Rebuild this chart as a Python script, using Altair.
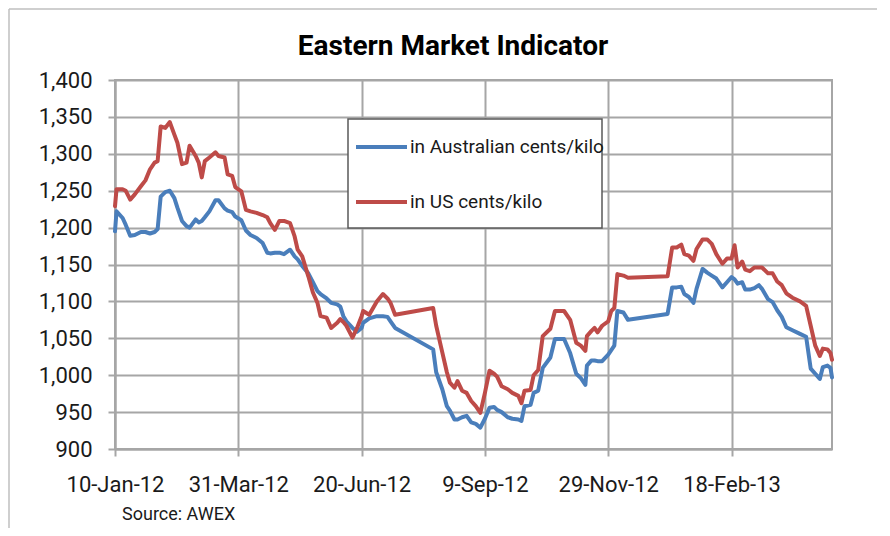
import altair as alt
import pandas as pd

# ---------------- data ----------------
start_date = "2012-01-10"

day_offsets = [0, 1, 5, 7, 10, 13, 17, 20, 23, 26, 28, 30, 33, 36, 39, 41, 44, 47, 49, 53,
               55, 57, 59, 62, 66, 68, 72, 74, 77, 79, 83, 86, 89, 93, 97, 100, 102, 105, 108, 111,
               115, 118, 120, 123, 127, 130, 133, 135, 139, 142, 146, 148, 150, 152, 156, 159, 162, 163, 167, 172,
               176, 179, 181, 184, 209, 211, 215, 218, 220, 223, 225, 228, 231, 234, 237, 240, 243, 246, 249, 251,
               254, 258, 261, 265, 267, 269, 273, 275, 278, 281, 286, 289, 295, 299, 303, 306, 309, 310, 313, 315,
               317, 320, 324, 326, 328, 330, 334, 337, 363, 366, 369, 372, 374, 377, 380, 382, 386, 389, 392, 395,
               399, 402, 405, 407, 409, 412, 414, 417, 420, 423, 425, 429, 432, 435, 438, 441, 445, 450, 454, 457,
               460, 463, 465, 468, 470, 471]

aud_cents = [1195, 1222, 1213, 1204, 1189, 1190, 1194, 1194, 1192, 1194, 1198, 1242, 1248, 1250, 1240, 1227, 1209, 1202, 1200, 1211,
             1207, 1209, 1214, 1222, 1237, 1237, 1226, 1223, 1221, 1215, 1210, 1196, 1190, 1186, 1179, 1166, 1165, 1166, 1166, 1164,
             1170, 1161, 1157, 1148, 1138, 1126, 1114, 1110, 1104, 1098, 1096, 1093, 1080, 1073, 1064, 1059, 1064, 1071, 1077, 1080,
             1080, 1079, 1073, 1064, 1035, 1004, 981, 958, 952, 940, 940, 943, 945, 936, 934, 929, 941, 956, 957, 953,
             950, 943, 941, 940, 938, 958, 960, 976, 979, 1010, 1024, 1049, 1049, 1030, 1002, 996, 987, 1013, 1020, 1020,
             1019, 1019, 1028, 1034, 1040, 1087, 1085, 1075, 1083, 1119, 1119, 1120, 1110, 1106, 1098, 1117, 1144, 1139, 1135, 1131,
             1119, 1126, 1133, 1130, 1124, 1126, 1116, 1116, 1118, 1122, 1117, 1103, 1099, 1088, 1079, 1065, 1061, 1056, 1052, 1009,
             1002, 995, 1011, 1013, 1010, 997]

usd_cents = [1229, 1252, 1252, 1250, 1238, 1245, 1256, 1264, 1279, 1288, 1290, 1337, 1335, 1343, 1326, 1315, 1286, 1288, 1311, 1297,
             1288, 1268, 1290, 1295, 1302, 1297, 1295, 1272, 1270, 1255, 1249, 1224, 1222, 1220, 1217, 1214, 1206, 1197, 1209, 1209,
             1206, 1188, 1170, 1161, 1134, 1112, 1098, 1080, 1078, 1064, 1071, 1076, 1072, 1067, 1051, 1064, 1080, 1087, 1082, 1100,
             1110, 1104, 1098, 1082, 1091, 1067, 1031, 1004, 990, 983, 992, 979, 976, 965, 958, 949, 976, 1006, 1002, 998,
             985, 981, 976, 972, 962, 979, 980, 1000, 1007, 1053, 1063, 1087, 1087, 1075, 1044, 1040, 1033, 1053, 1060, 1064,
             1058, 1067, 1073, 1087, 1091, 1137, 1135, 1132, 1134, 1173, 1173, 1177, 1164, 1162, 1155, 1171, 1184, 1184, 1178, 1164,
             1151, 1158, 1158, 1176, 1146, 1154, 1143, 1141, 1146, 1146, 1146, 1138, 1138, 1127, 1122, 1111, 1105, 1100, 1094, 1067,
             1040, 1026, 1036, 1035, 1030, 1021]

series_names = ["in Australian cents/kilo", "in US cents/kilo"]
x_tick_days = [0, 81, 162, 243, 324, 405]
y_ticks = [900, 950, 1000, 1050, 1100, 1150, 1200, 1250, 1300, 1350, 1400]
chart_title = "Eastern Market Indicator"
source_note = "Source: AWEX"

# ---------------- styles ----------------
series_colors = ["#4A7EBB", "#BE4B48"]
FONT = "Roboto"
GRID = "#A6A6A6"
TEXT = "#1A1A1A"

assert len(day_offsets) == len(aud_cents) == len(usd_cents)

start = pd.Timestamp(start_date)
dates = [start + pd.Timedelta(days=d) for d in day_offsets]
n = len(dates)
df = pd.DataFrame({
    "date": dates + dates,
    "value": aud_cents + usd_cents,
    "series": [series_names[0]] * n + [series_names[1]] * n,
})


def dt(ts):
    return alt.DateTime(year=int(ts.year), month=int(ts.month), date=int(ts.day))


tick_dates = [dt(start + pd.Timedelta(days=d)) for d in x_tick_days]
x_domain = [dt(start), dt(start + pd.Timedelta(days=max(day_offsets)))]

lines = alt.Chart(df).mark_line(strokeWidth=4, strokeJoin="round", strokeCap="round").encode(
    x=alt.X("date:T",
            scale=alt.Scale(domain=x_domain, nice=False),
            axis=alt.Axis(values=tick_dates, format="%-d-%b-%y", title=None,
                          labelFont=FONT, labelFontSize=22, labelColor=TEXT,
                          labelPadding=18, labelFlush=False, labelOverlap=False,
                          tickColor=GRID, tickWidth=2, tickSize=7,
                          domainColor=GRID, domainWidth=2,
                          grid=True, gridColor=GRID, gridWidth=2)),
    y=alt.Y("value:Q",
            scale=alt.Scale(domain=[900, 1400], nice=False, zero=False),
            axis=alt.Axis(values=y_ticks, format=",.0f", title=None,
                          labelFont=FONT, labelFontSize=22, labelColor=TEXT,
                          labelPadding=16, labelFlush=False, labelOverlap=False,
                          tickColor=GRID, tickWidth=2, tickSize=7,
                          domainColor=GRID, domainWidth=2,
                          grid=True, gridColor=GRID, gridWidth=2)),
    color=alt.Color("series:N", scale=alt.Scale(domain=series_names, range=series_colors), legend=None),
    order=alt.Order("date:T"),
)

base = alt.Chart(pd.DataFrame({"k": [0]}))

legend_box = base.mark_rect(fill="white", stroke="#595959", strokeWidth=1.5).encode(
    x=alt.value(233), x2=alt.value(487), y=alt.value(39), y2=alt.value(148))

legend_line_1 = base.mark_rule(color=series_colors[0], strokeWidth=4).encode(
    x=alt.value(241), x2=alt.value(292), y=alt.value(67))
legend_line_2 = base.mark_rule(color=series_colors[1], strokeWidth=4).encode(
    x=alt.value(241), x2=alt.value(292), y=alt.value(122))

legend_text_1 = base.mark_text(align="left", baseline="middle", font=FONT, fontSize=19, color=TEXT).encode(
    x=alt.value(295), y=alt.value(67), text=alt.value(series_names[0]))
legend_text_2 = base.mark_text(align="left", baseline="middle", font=FONT, fontSize=19, color=TEXT).encode(
    x=alt.value(295), y=alt.value(122), text=alt.value(series_names[1]))

title_mark = base.mark_text(align="center", baseline="middle", font=FONT, fontSize=28,
                            fontWeight="bold", color="#000000").encode(
    x=alt.value(338), y=alt.value(-33), text=alt.value(chart_title))

source_mark = base.mark_text(align="left", baseline="middle", font=FONT, fontSize=18, color=TEXT).encode(
    x=alt.value(7), y=alt.value(435), text=alt.value(source_note))

border_top = base.mark_rule(color="#BFBFBF", strokeWidth=1.5).encode(
    x=alt.value(-106), x2=alt.value(762), y=alt.value(-71))
border_left = base.mark_rule(color="#BFBFBF", strokeWidth=1.5).encode(
    x=alt.value(-106), y=alt.value(-71), y2=alt.value(448))

chart = alt.layer(
    lines, legend_box, legend_line_1, legend_line_2, legend_text_1, legend_text_2,
    title_mark, source_mark, border_top, border_left,
).properties(
    width=717, height=369,
    padding={"left": 107, "top": 72, "right": 45, "bottom": 79},
    autosize=alt.AutoSizeParams(type="none"),
    background="white",
).configure_view(stroke=GRID, strokeWidth=2)

chart.save("out.html", embed_options={"renderer": "svg", "actions": False})
